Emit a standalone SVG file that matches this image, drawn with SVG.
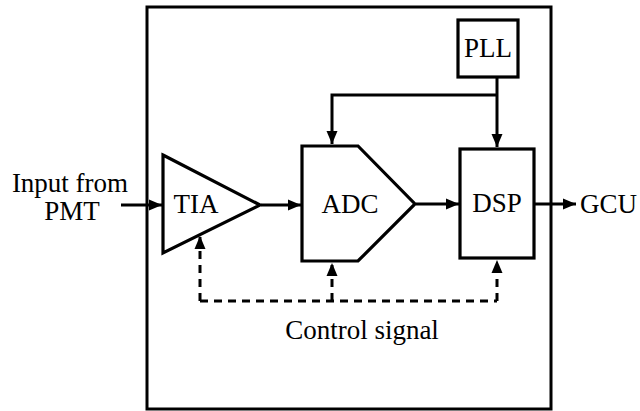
<svg xmlns="http://www.w3.org/2000/svg" width="640" height="411" viewBox="0 0 640 411">
<style>
.s{fill:none;stroke:#000;stroke-width:3;stroke-linejoin:miter}
.n{fill:#fff;stroke:#000;stroke-width:3.2}
.c{fill:none;stroke:#000;stroke-width:3}
.d{fill:none;stroke:#000;stroke-width:3;stroke-dasharray:8,6}
text{font-family:"Liberation Serif",Tinos,"Times New Roman",Times,"DejaVu Serif",serif;font-size:27px;fill:#000}
</style>
<defs>
<marker id="ah" markerUnits="userSpaceOnUse" markerWidth="14" markerHeight="14" viewBox="0 0 14 14" refX="13" refY="7" orient="auto">
<path d="M0,1.5 L13,7 L0,12.5 Z" fill="#000"/>
</marker>
</defs>
<g id="enclosure"><rect x="147" y="7" width="404" height="402" class="s"/></g>
<g id="pll"><rect x="458" y="20" width="60" height="57" class="n"/><text x="488" y="57" text-anchor="middle">PLL</text></g>
<g id="tia"><path d="M163,155 L260,205 L163,253 Z" class="n"/><text x="196" y="213" text-anchor="middle">TIA</text></g>
<g id="adc"><path d="M302,146 L358,146 L415,204 L358,261 L302,261 Z" class="n"/><text x="350" y="213" text-anchor="middle">ADC</text></g>
<g id="dsp"><rect x="460" y="149" width="74" height="109" class="n"/><text x="497" y="212" text-anchor="middle">DSP</text></g>
<g id="labels">
<text x="70" y="192" text-anchor="middle">Input from</text>
<text x="72" y="220" text-anchor="middle">PMT</text>
<text x="580" y="213">GCU</text>
<text x="362" y="339" text-anchor="middle">Control signal</text>
</g>
<g id="connectors">
<path d="M121,205 L162,205" class="c" marker-end="url(#ah)"/>
<path d="M261,205 L301,205" class="c" marker-end="url(#ah)"/>
<path d="M416,204 L459,204" class="c" marker-end="url(#ah)"/>
<path d="M535,204 L576,204" class="c" marker-end="url(#ah)"/>
<path d="M497,77 L497,147" class="c" marker-end="url(#ah)"/>
<path d="M497,95 L332,95 L332,144" class="c" marker-end="url(#ah)"/>
<path d="M200,301 L497,301" class="d"/>
<path d="M200,301 L200,236" class="d" marker-end="url(#ah)"/>
<path d="M332,301 L332,263" class="d" marker-end="url(#ah)"/>
<path d="M497,301 L497,260" class="d" marker-end="url(#ah)"/>
</g>
</svg>
